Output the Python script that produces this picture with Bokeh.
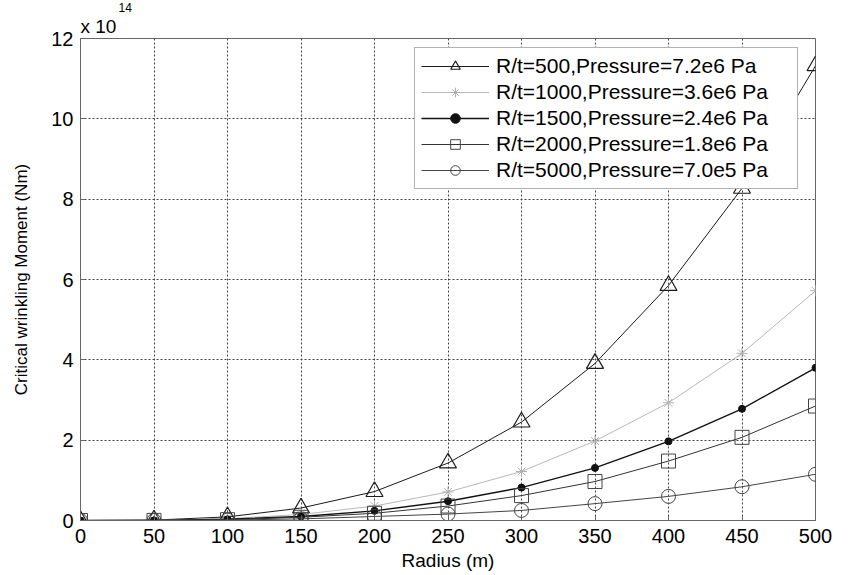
from bokeh.plotting import figure
from bokeh.models import Range1d, FixedTicker, Title, Legend, LegendItem
from bokeh.embed import file_html
from bokeh.resources import INLINE

# Data (moment values in units of 1e14 Nm)
radius = [0, 50, 100, 150, 200, 250, 300, 350, 400, 450, 500]
m_rt500 = [0, 0.01, 0.09, 0.31, 0.72, 1.43, 2.45, 3.91, 5.85, 8.27, 11.32]
m_rt1000 = [0, 0.006, 0.045, 0.15, 0.36, 0.71, 1.22, 1.98, 2.93, 4.16, 5.72]
m_rt1500 = [0, 0.004, 0.03, 0.10, 0.24, 0.48, 0.82, 1.31, 1.97, 2.78, 3.80]
m_rt2000 = [0, 0.003, 0.02, 0.08, 0.18, 0.36, 0.62, 0.97, 1.48, 2.07, 2.85]
m_rt5000 = [0, 0.001, 0.01, 0.04, 0.10, 0.16, 0.25, 0.42, 0.60, 0.84, 1.15]

labels = [
    "R/t=500,Pressure=7.2e6 Pa",
    "R/t=1000,Pressure=3.6e6 Pa",
    "R/t=1500,Pressure=2.4e6 Pa",
    "R/t=2000,Pressure=1.8e6 Pa",
    "R/t=5000,Pressure=7.0e5 Pa",
]
x_ticks = [0, 50, 100, 150, 200, 250, 300, 350, 400, 450, 500]
y_ticks = [0, 2, 4, 6, 8, 10, 12]

FONT = "Liberation Sans"

p = figure(width=842, height=575, output_backend="svg", toolbar_location=None,
           title=None,
           x_range=Range1d(0, 500), y_range=Range1d(0, 12),
           min_border_left=80, min_border_right=27, min_border_top=38,
           min_border_bottom=55)
p.background_fill_color = "white"
p.border_fill_color = "white"
p.outline_line_color = "#666666"
p.outline_line_width = 1

for ax in (p.xaxis, p.yaxis):
    ax.major_label_text_font = FONT
    ax.major_label_text_font_size = "20px"
    ax.major_label_text_color = "black"
    ax.axis_label_text_font = FONT
    ax.axis_label_text_font_style = "normal"
    ax.axis_label_text_color = "black"
    ax.axis_line_color = "#666666"
    ax.major_tick_line_color = "#666666"
    ax.major_tick_in = 5
    ax.major_tick_out = 0
    ax.minor_tick_line_color = None

p.xaxis.ticker = FixedTicker(ticks=x_ticks)
p.yaxis.ticker = FixedTicker(ticks=y_ticks)
p.xaxis.axis_label = "Radius (m)"
p.yaxis.axis_label = "Critical wrinkling Moment (Nm)"
p.xaxis.axis_label_text_font_size = "19px"
p.yaxis.axis_label_text_font_size = "17px"
p.xaxis.major_label_standoff = 8
p.yaxis.major_label_standoff = 7
p.xaxis.axis_label_standoff = 4
p.yaxis.axis_label_standoff = 17

p.xgrid.grid_line_color = "#444444"
p.ygrid.grid_line_color = "#444444"
p.xgrid.grid_line_dash = "2 2"
p.ygrid.grid_line_dash = "2 2"
p.xgrid.grid_line_width = 1
p.ygrid.grid_line_width = 1

items = []

l1 = p.line(radius, m_rt500, line_color="#1a1a1a", line_width=1)
s1 = p.scatter(radius, m_rt500, marker="triangle", size=17, fill_color=None,
               line_color="#1a1a1a", line_width=1.2)
items.append(LegendItem(label=labels[0], renderers=[l1, s1]))

l2 = p.line(radius, m_rt1000, line_color="#b8b8b8", line_width=1)
s2 = p.scatter(radius, m_rt1000, marker="asterisk", size=11, line_color="#b0b0b0",
               line_width=1)
items.append(LegendItem(label=labels[1], renderers=[l2, s2]))

l3 = p.line(radius, m_rt1500, line_color="#111111", line_width=1.4)
s3 = p.scatter(radius, m_rt1500, marker="circle", size=7, fill_color="#111111",
               line_color="#111111")
items.append(LegendItem(label=labels[2], renderers=[l3, s3]))

l4 = p.line(radius, m_rt2000, line_color="#333333", line_width=1)
s4 = p.scatter(radius, m_rt2000, marker="square", size=14, fill_color=None,
               line_color="#444444", line_width=1)
items.append(LegendItem(label=labels[3], renderers=[l4, s4]))

l5 = p.line(radius, m_rt5000, line_color="#444444", line_width=1)
s5 = p.scatter(radius, m_rt5000, marker="circle", size=14, fill_color=None,
               line_color="#444444", line_width=1)
items.append(LegendItem(label=labels[4], renderers=[l5, s5]))

legend = Legend(items=items, location=(334, 331), margin=0,
                label_text_font=FONT, label_text_font_size="21px",
                label_text_color="black", label_height=24, glyph_height=24,
                glyph_width=68, label_standoff=7, label_width=295,
                spacing=2, padding=6,
                border_line_color="#666666", border_line_width=1,
                background_fill_color="white", background_fill_alpha=1)
p.add_layout(legend, "center")

# x 10^14 multiplier (stacked titles: first is closest to the frame)
p.add_layout(Title(text="x 10", align="left", offset=0, standoff=4,
                   text_font=FONT, text_font_size="19px",
                   text_font_style="normal", text_color="black"), "above")
p.add_layout(Title(text="14", align="left", offset=38, standoff=0,
                   text_font=FONT, text_font_size="12px",
                   text_font_style="normal", text_color="black"), "above")

open("out.html", "w").write(file_html(p, INLINE))
